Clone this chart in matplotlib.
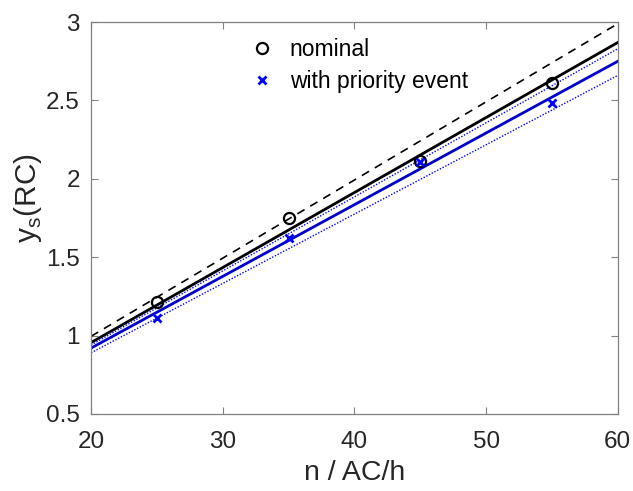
import matplotlib
matplotlib.use("Agg")
import matplotlib.pyplot as plt

# data
n_points = [25, 35, 45, 55]
ys_nominal = [1.214, 1.75, 2.115, 2.61]
ys_priority = [1.115, 1.625, 2.105, 2.485]

x_fit = [20, 60]
fit_nominal = [0.955, 2.87]
fit_nominal_upper = [0.995, 2.99]
fit_priority = [0.92, 2.75]
fit_priority_upper = [0.94, 2.83]
fit_priority_lower = [0.89, 2.66]

xticks = [20, 30, 40, 50, 60]
yticks = [0.5, 1, 1.5, 2, 2.5, 3]
ytick_labels = ["0.5", "1", "1.5", "2", "2.5", "3"]

plt.rcParams['font.family'] = ['Liberation Sans', 'DejaVu Sans']

fig = plt.figure(figsize=(6.33, 4.91), dpi=100)
ax = fig.add_axes([0.1438, 0.157, 0.8322, 0.798])

ax.plot(x_fit, fit_nominal_upper, color='black', linestyle=(0, (5, 4)), linewidth=1.2)
ax.plot(x_fit, fit_nominal, color='black', linewidth=2.0)
ax.plot(x_fit, fit_priority_upper, color='#0000ff', linestyle=(0, (1, 1.2)), linewidth=1.0)
ax.plot(x_fit, fit_priority_lower, color='#0000ff', linestyle=(0, (1, 1.2)), linewidth=1.0)
ax.plot(x_fit, fit_priority, color='#0000cc', linewidth=2.0)

ax.plot(n_points, ys_nominal, linestyle='none', marker='o', markersize=8,
        markerfacecolor='none', markeredgecolor='black', markeredgewidth=1.6,
        label='nominal')
ax.plot(n_points, ys_priority, linestyle='none', marker='x', markersize=6,
        markeredgecolor='#0000ff', markeredgewidth=2.0, label='with priority event')

ax.set_xlim(20, 60)
ax.set_ylim(0.5, 3)
ax.set_xticks(xticks)
ax.set_yticks(yticks)
ax.set_yticklabels(ytick_labels)
ax.tick_params(direction='in', top=True, right=True, length=5, width=0.8,
               labelsize=17.5, colors='#808080', labelcolor='#262626')
ax.tick_params(axis='x', pad=12)
ax.tick_params(axis='y', pad=8)
for s in ax.spines.values():
    s.set_color('#808080')
    s.set_linewidth(0.9)

ax.set_xlabel('n / AC/h', fontsize=20.5, color='#262626', labelpad=5)
ax.set_ylabel(r'y$_\mathregular{s}$(RC)', fontsize=21.5, color='#262626')
ax.yaxis.set_label_coords(-0.09, 0.55)

leg = ax.legend(loc='upper left', bbox_to_anchor=(0.26, 1.012), frameon=False,
                fontsize=16.5, handletextpad=0.6, labelspacing=0.4, handlelength=1.2)

fig.savefig('out.png', dpi=100)
